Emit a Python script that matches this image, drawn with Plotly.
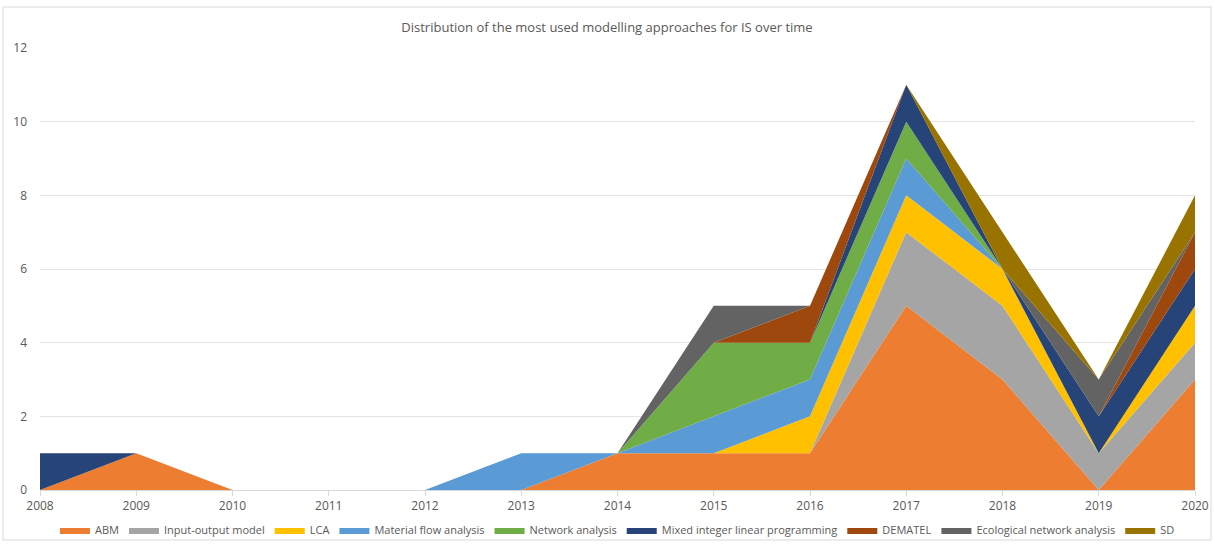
import plotly.graph_objects as go

years = list(range(2008, 2021))
series_names = ["ABM", "Input-output model", "LCA", "Material flow analysis", "Network analysis",
                "Mixed integer linear programming", "DEMATEL", "Ecological network analysis", "SD"]
abm      = [0, 1, 0, 0, 0, 0, 1, 1, 1, 5, 3, 0, 3]
io_model = [0, 0, 0, 0, 0, 0, 0, 0, 0, 2, 2, 1, 1]
lca      = [0, 0, 0, 0, 0, 0, 0, 0, 1, 1, 1, 0, 1]
mfa      = [0, 0, 0, 0, 0, 1, 0, 1, 1, 1, 0, 0, 0]
network  = [0, 0, 0, 0, 0, 0, 0, 2, 1, 1, 0, 0, 0]
milp     = [1, 0, 0, 0, 0, 0, 0, 0, 0, 1, 0, 1, 1]
dematel  = [0, 0, 0, 0, 0, 0, 0, 0, 1, 0, 0, 0, 1]
ena      = [0, 0, 0, 0, 0, 0, 0, 1, 0, 0, 0, 1, 0]
sd       = [0, 0, 0, 0, 0, 0, 0, 0, 0, 0, 1, 0, 1]
colors = ["#ED7D31", "#A5A5A5", "#FFC000", "#5B9BD5", "#70AD47", "#264478", "#9E480E", "#636363", "#997300"]

data = [abm, io_model, lca, mfa, network, milp, dematel, ena, sd]

fig = go.Figure()
for name, vals, col in zip(series_names, data, colors):
    fig.add_trace(go.Scatter(x=years, y=vals, name=name, stackgroup="one", mode="lines",
                             line=dict(width=0, color=col), fillcolor=col))

font_family = "Open Sans, Liberation Sans, sans-serif"
fig.update_layout(
    width=1214, height=545,
    margin=dict(l=40, r=19, t=48, b=55, autoexpand=False),
    paper_bgcolor="white", plot_bgcolor="white",
    title=dict(text="Distribution of the most used modelling approaches for IS over time",
               x=0.5, xanchor="center", y=1 - 27 / 545, yanchor="middle",
               font=dict(family=font_family, size=13, color="#595959")),
    font=dict(family=font_family, size=12, color="#595959"),
    showlegend=True,
    legend=dict(orientation="h", x=0.5, xanchor="center", yref="container", y=1 - 530 / 545,
                yanchor="middle", bgcolor="rgba(0,0,0,0)",
                font=dict(size=11, color="#595959"), traceorder="normal",
                itemwidth=30, itemsizing="constant"),
    xaxis=dict(range=[2008, 2020], tickmode="array", tickvals=years, ticktext=[str(y) for y in years],
               showgrid=False, zeroline=False, showline=True, linecolor="#D9D9D9", linewidth=1,
               ticks="outside", ticklen=5, tickcolor="#D9D9D9",
               tickfont=dict(size=12, color="#595959")),
    yaxis=dict(range=[0, 12], tickmode="array", tickvals=[0, 2, 4, 6, 8, 10, 12],
               showgrid=True, gridcolor="#E3E3E3", gridwidth=1, zeroline=False, showline=False,
               ticks="", ticklabelstandoff=12,
               tickfont=dict(size=12, color="#595959")),
    shapes=[dict(type="rect", xref="paper", yref="paper",
                 x0=-37 / 1155, x1=1 + 16 / 1155, y0=-50 / 442, y1=1 + 41 / 442,
                 line=dict(color="#D9D9D9", width=1), layer="below")],
)

fig.write_html("out.html")
